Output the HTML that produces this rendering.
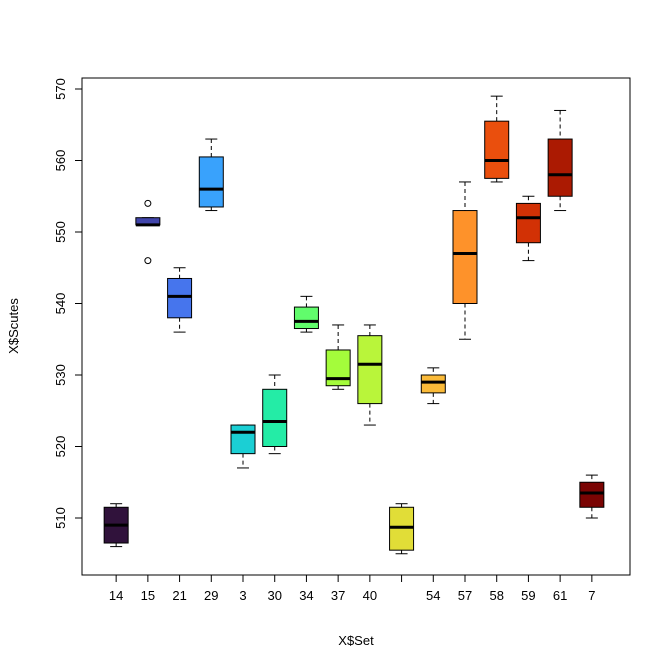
<!DOCTYPE html>
<html><head><meta charset="utf-8"><style>body{margin:0;background:#fff}svg{display:block;font-family:"Liberation Sans",Arial,sans-serif}</style></head>
<body>
<svg id="c" width="672" height="671"></svg>
<script>
const categories=["14","15","21","29","3","30","34","37","40","","54","57","58","59","61","7"];
const whiskerLow=[506,551,536,553,517,519,536,528,523,505,526,535,557,546,553,510];
const q1=[506.5,551,538,553.5,519,520,536.5,528.5,526,505.5,527.5,540,557.5,548.5,555,511.5];
const medians=[509,551,541,556,522,523.5,537.5,529.5,531.5,508.7,529,547,560,552,558,513.5];
const q3=[511.5,552,543.5,560.5,523,528,539.5,533.5,535.5,511.5,530,553,565.5,554,563,515];
const whiskerHigh=[512,552,545,563,523,530,541,537,537,512,531,557,569,555,567,516];
const outliers=[[],[554,546],[],[],[],[],[],[],[],[],[],[],[],[],[],[]];
const colors=["#30123B","#4145AB","#4675ED","#39A2FC","#1BCFD4","#24ECA6","#61FC6C","#A4FC3B","#B9F53A","#E1DD37","#FABA39","#FE922A","#EA4F0D","#D23105","#AB1A02","#7A0403"];
const yTicks=[510,520,530,540,550,560,570];
const NS="http://www.w3.org/2000/svg",svg=document.getElementById('c');
const L=82,R=630,T=78,B=575;
const n=categories.length,x0=0.5-0.04*n,x1=n+0.5+0.04*n;
const xs=i=>L-2+(i+1-x0)/(x1-x0)*(R-L);
const ys=v=>518-(v-510)*7.15;
function mk(t,a,p){const e=document.createElementNS(NS,t);for(const k in a)e.setAttribute(k,a[k]);(p||svg).appendChild(e);return e;}
const frame=mk('rect',{x:L,y:T,width:R-L,height:B-T,fill:'none',stroke:'#000'});


const hw=12;
categories.forEach((c,i)=>{
 const g=mk('g',{});
 
 
 const x=xs(i);
 mk('line',{x1:x,x2:x,y1:ys(whiskerHigh[i]),y2:ys(q3[i]),stroke:'#000','stroke-dasharray':'4,3'},g);
 mk('line',{x1:x,x2:x,y1:ys(q1[i]),y2:ys(whiskerLow[i]),stroke:'#000','stroke-dasharray':'4,3'},g);
 mk('line',{x1:x-6,x2:x+6,y1:ys(whiskerHigh[i]),y2:ys(whiskerHigh[i]),stroke:'#000'},g);
 mk('line',{x1:x-6,x2:x+6,y1:ys(whiskerLow[i]),y2:ys(whiskerLow[i]),stroke:'#000'},g);
 mk('rect',{x:x-hw,y:ys(q3[i]),width:2*hw,height:Math.max(ys(q1[i])-ys(q3[i]),0.5),fill:colors[i],stroke:'#000'},g);
 mk('line',{x1:x-hw,x2:x+hw,y1:ys(medians[i]),y2:ys(medians[i]),stroke:'#000','stroke-width':3},g);
 outliers[i].forEach(o=>mk('circle',{cx:x,cy:ys(o),r:3,fill:'none',stroke:'#000'},g));
 mk('line',{x1:x,x2:x,y1:B,y2:B+7,stroke:'#000'});
 const t=mk('text',{x:x,y:B+25,'text-anchor':'middle','font-size':13});t.textContent=c;
 
 
});
mk('line',{x1:xs(0),x2:xs(n-1),y1:B,y2:B,stroke:'#000'});
yTicks.forEach(v=>{
 const y=ys(v);
 mk('line',{x1:L,x2:L-7,y1:y,y2:y,stroke:'#000'});
 const t=mk('text',{x:L-17,y:y,'text-anchor':'middle','font-size':13,transform:`rotate(-90 ${L-17} ${y})`});t.textContent=v;
 
 
});
mk('line',{x1:L,x2:L,y1:ys(510),y2:ys(570),stroke:'#000'});
const xt=mk('text',{x:356,y:645,'text-anchor':'middle','font-size':13});xt.textContent='X$Set';


const yt=mk('text',{x:18,y:326,'text-anchor':'middle','font-size':13,transform:'rotate(-90 18 326)'});yt.textContent='X$Scutes';


</script>
</body></html>
